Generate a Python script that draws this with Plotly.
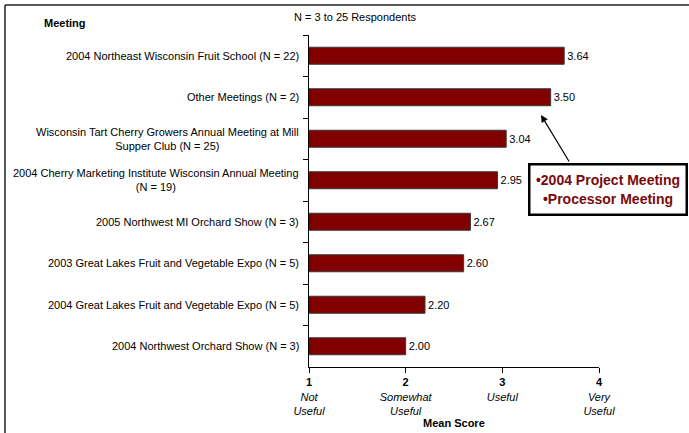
import plotly.graph_objects as go

# Meetings and their mean usefulness scores (1 = Not Useful ... 4 = Very Useful)
meetings = [
    "2004 Northeast Wisconsin Fruit School (N = 22)",
    "Other Meetings (N = 2)",
    "Wisconsin Tart Cherry Growers Annual Meeting at Mill<br>Supper Club (N = 25)",
    "2004 Cherry Marketing Institute Wisconsin Annual Meeting<br>(N = 19)",
    "2005 Northwest MI Orchard Show (N = 3)",
    "2003 Great Lakes Fruit and Vegetable Expo (N = 5)",
    "2004 Great Lakes Fruit and Vegetable Expo (N = 5)",
    "2004 Northwest Orchard Show (N = 3)",
]
mean_scores = [3.64, 3.50, 3.04, 2.95, 2.67, 2.60, 2.20, 2.00]

score_ticks = [1, 2, 3, 4]
score_names = [["Not", "Useful"], ["Somewhat", "Useful"], ["Useful"], ["Very", "Useful"]]
score_ticktext = [
    "<b>%d</b><br>" % v + "<br>".join("<i>%s</i>" % w for w in names)
    for v, names in zip(score_ticks, score_names)
]

other_meetings_note = ["•2004 Project Meeting", "•Processor Meeting"]

FONT = "Liberation Sans, Arial, sans-serif"
BAR_RED = "#800000"
NOTE_RED = "#7a0a0a"

fig = go.Figure()
fig.add_trace(go.Bar(
    y=meetings,
    x=mean_scores,
    orientation="h",
    marker=dict(color=BAR_RED, line=dict(color="#3a3a3a", width=1)),
    text=["%.2f" % v for v in mean_scores],
    textposition="outside",
    textfont=dict(family=FONT, size=11, color="black"),
    constraintext="none",
    cliponaxis=False,
    hoverinfo="skip",
))

# Plot area spans 309..599 px horizontally and 35..367 px vertically
L, R, T, B = 309, 90, 35, 66
W, H = 689, 433
pw, ph = W - L - R, H - T - B


def px_x(p):
    return (p - L) / pw


def px_y(p):
    return (H - B - p) / ph


annotations = []
# Meeting names, lines centred on each other
for name in meetings:
    annotations.append(dict(
        x=0, xref="paper", y=name, yref="y", xanchor="right", yanchor="middle",
        xshift=-8, text=name, showarrow=False, align="center",
        font=dict(family=FONT, size=11, color="black"),
    ))

annotations += [
    dict(x=px_x(42), y=px_y(23), xref="paper", yref="paper", xanchor="left",
         yanchor="middle", text="<b>Meeting</b>", showarrow=False,
         font=dict(family=FONT, size=11, color="black")),
    dict(x=px_x(292), y=px_y(17), xref="paper", yref="paper", xanchor="left",
         yanchor="middle", text="N = 3 to 25 Respondents", showarrow=False,
         font=dict(family=FONT, size=11, color="black")),
    dict(x=0.5, y=px_y(423), xref="paper", yref="paper", xanchor="center",
         yanchor="middle", text="<b>Mean Score</b>", showarrow=False,
         font=dict(family=FONT, size=11, color="black")),
    # callout box explaining "Other Meetings"
    dict(x=px_x(607.5), y=px_y(189.5), xref="paper", yref="paper", xanchor="center",
         yanchor="middle", text="<br>".join("<b>%s</b>" % s for s in other_meetings_note),
         showarrow=False, align="center", width=153, height=46, borderpad=1,
         bordercolor="black", borderwidth=2.5, bgcolor="white",
         font=dict(family=FONT, size=14, color=NOTE_RED)),
    # arrow from the callout to the "Other Meetings" bar
    dict(x=px_x(541), y=px_y(115), xref="paper", yref="paper", text="",
         showarrow=True, ax=29, ay=48, axref="pixel", ayref="pixel",
         arrowhead=2, arrowsize=1.2, arrowwidth=1.2, arrowcolor="black",
         standoff=0, startstandoff=0),
]

# frame lines along the top and left of the figure
shapes = [
    dict(type="line", xref="paper", yref="paper", x0=px_x(5), x1=px_x(700),
         y0=px_y(5), y1=px_y(5), line=dict(color="#222222", width=1.5)),
    dict(type="line", xref="paper", yref="paper", x0=px_x(5), x1=px_x(5),
         y0=px_y(5), y1=px_y(445), line=dict(color="#222222", width=1.5)),
]

fig.update_layout(
    width=W, height=H,
    margin=dict(l=L, r=R, t=T, b=B, pad=0),
    paper_bgcolor="white", plot_bgcolor="white",
    showlegend=False,
    bargap=0.59,
    font=dict(family=FONT, size=11, color="black"),
    xaxis=dict(
        range=[1, 4], tickmode="array", tickvals=score_ticks, ticktext=score_ticktext,
        showgrid=False, zeroline=False, showline=True, linecolor="black", linewidth=1,
        ticks="outside", ticklen=5, tickcolor="black",
        tickfont=dict(family=FONT, size=11, color="black"),
    ),
    yaxis=dict(
        type="category", autorange="reversed", showticklabels=False,
        showgrid=False, zeroline=False, showline=True, linecolor="black", linewidth=1,
        ticks="outside", ticklen=5, tickcolor="black", tickson="boundaries",
    ),
    annotations=annotations,
    shapes=shapes,
)

fig.write_html("out.html")
